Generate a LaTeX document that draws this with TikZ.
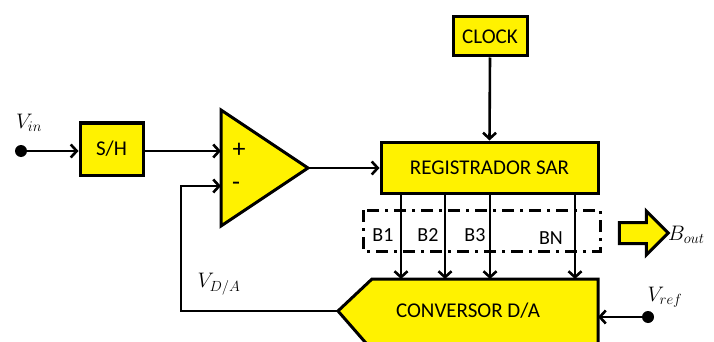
\documentclass[tikz,border=0pt]{standalone}
\usepackage{fix-cm}
\usepackage{fontspec}
\setmainfont{Carlito}
\usetikzlibrary{arrows.meta,shapes.arrows}
\begin{document}
\begin{tikzpicture}[x=1pt,y=-1pt,
  blk/.style={draw,line width=3pt,fill=yellow,inner sep=0pt,font=\fontsize{21}{23}\selectfont},
  wire/.style={line width=2.6pt,-{Straight Barb[length=6pt,width=13pt,line width=2.6pt]}},
  dotst/.style={circle,fill=black,inner sep=0pt,minimum size=12pt},
  lbl/.style={inner sep=0pt,font=\fontsize{20}{22}\selectfont},
  mlbl/.style={inner sep=0pt,font=\fontsize{21}{23}\selectfont}]
\useasboundingbox (0,0) rectangle (714,342);
% blocks
\node[blk,minimum width=63pt,minimum height=52pt] (sh) at (111.5,149) {S/H};
\node[blk,minimum width=217pt,minimum height=51pt] (reg) at (489.5,167.5) {REGISTRADOR SAR};
\node[blk,minimum width=74pt,minimum height=39pt] (clk) at (490,36.5) {CLOCK};
% op-amp
\draw[line width=3pt,fill=yellow,line join=miter] (221,110) -- (308,168) -- (221,226) -- cycle;
\coordinate (oplus) at (221,151);
\coordinate (ominus) at (221,186);
\coordinate (oout) at (308,168);
\node[inner sep=0pt,font=\fontsize{26}{28}\selectfont] (plus) at (239,150) {+};
\node[inner sep=0pt,font=\fontsize{26}{28}\selectfont] (minus) at (236,186) {-};
% DAC
\draw[line width=3pt,fill=yellow,line join=miter] (372,279) -- (598,279) -- (598,350) -- (372,350) -- (338,311) -- cycle;
\coordinate (dactip) at (338,311);
\node[inner sep=0pt,font=\fontsize{21}{23}\selectfont] (dactxt) at (468,311) {CONVERSOR D/A};
\coordinate (dacref) at (598,317);
% dots and labels
\node[dotst] (vin) at (21,151) {};
\node[mlbl] (vinl) at (29,123) {$V_{in}$};
\node[dotst] (vref) at (648,317) {};
\node[mlbl] (vrefl) at (665,297) {$V_{ref}$};
\node[mlbl] (vdal) at (219,284) {$V_{D/A}$};
% connections
\draw[wire] (vin.center) -- (sh.west |- vin.center);
\draw[wire] (sh.east |- oplus) -- (oplus);
\draw[wire] (oout) -- (reg.west |- oout);
\draw[wire] (clk.south) -- (reg.north);
\draw[wire] (vref.center) -- (dacref);
\draw[wire] (dactip) -- (181,311) -- (181,186) -- (ominus);
% bits
\foreach \x/\n in {401/a,445/b,490/c,575/d}{
  \coordinate (bt\n) at (\x,193);
  \coordinate (bb\n) at (\x,279);
  \draw[wire] (bt\n) -- (bb\n);
}
\draw[line width=3pt,dash pattern=on 12pt off 6pt on 3pt off 6pt] (363,210) rectangle (600,251);
\node[lbl] (b1) at (383,235) {B1};
\node[lbl] (b2) at (428,235) {B2};
\node[lbl] (b3) at (475,235) {B3};
\node[lbl] (bn) at (551,238) {BN};
% Bout
\node[single arrow,draw,line width=3pt,fill=yellow,minimum height=49pt,minimum width=41pt,single arrow head extend=11.5pt,inner xsep=0pt,inner ysep=9pt,single arrow tip angle=90] (bout) at (638.5,233) {};
\node[mlbl,anchor=west] (boutl) at (668,235) {$B_{out}$};
\end{tikzpicture}
\end{document}
